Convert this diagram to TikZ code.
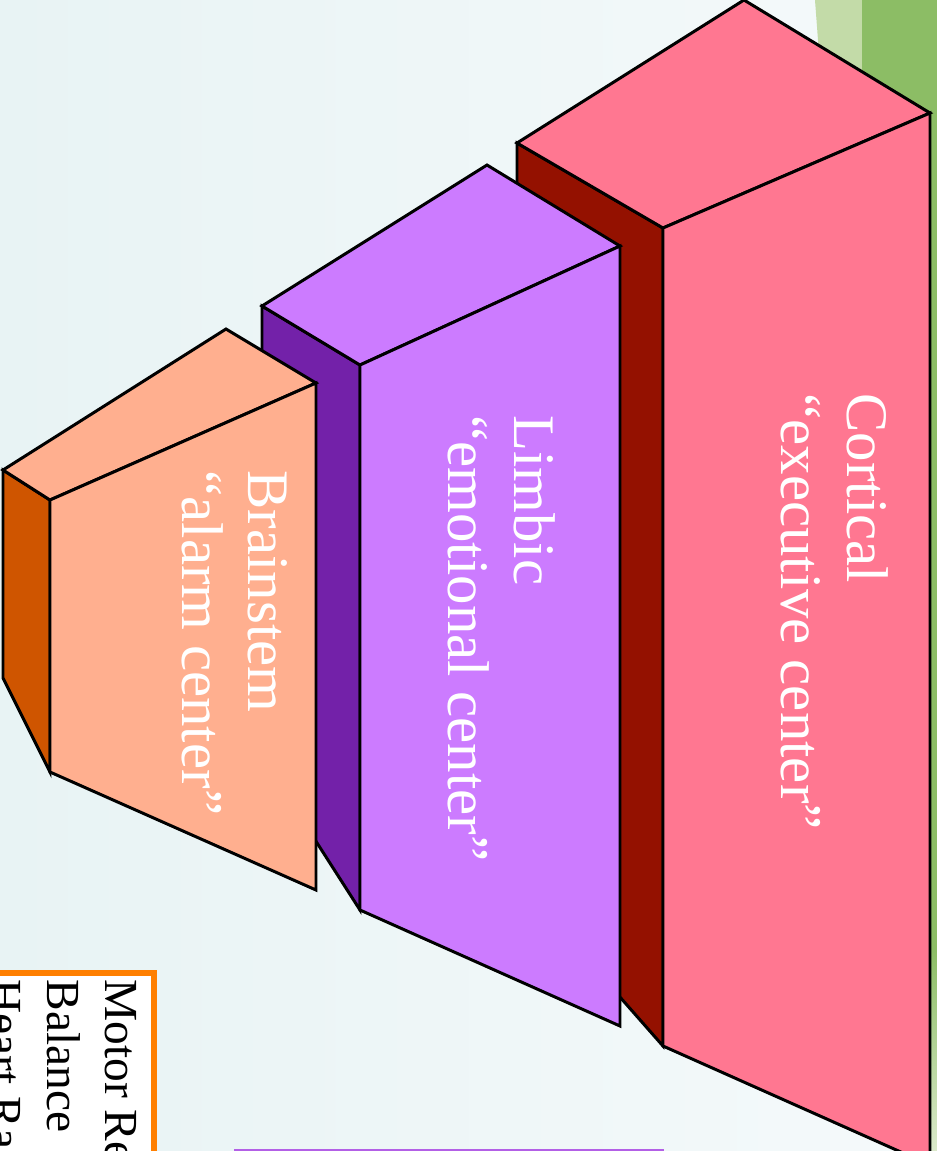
\documentclass[tikz,border=0pt]{standalone}
\usepackage{fontspec}
\setmainfont{Liberation Serif}
\definecolor{cortpink}{HTML}{FF7791}
\definecolor{cortdark}{HTML}{941100}
\definecolor{limbpink}{HTML}{CC7BFF}
\definecolor{limbdark}{HTML}{7321A9}
\definecolor{brainpink}{HTML}{FFAF8F}
\definecolor{braindark}{HTML}{CF5500}
\definecolor{boxorange}{HTML}{FF7F00}
\definecolor{linepurple}{HTML}{B360E6}
\definecolor{greendark}{HTML}{8CBD65}
\definecolor{greenlight}{HTML}{C3DBA8}
\definecolor{bgleft}{HTML}{E8F3F4}
\definecolor{bgright}{HTML}{F5FAFB}

\begin{document}
\begin{tikzpicture}[
        x=0.2mm, y=-0.2mm,
        face/.style={draw=black, line width=1.7pt},
        brainlabel/.style={text=white, rotate=-90, align=left, inner sep=0pt,
            font=\fontsize{33.5}{37.5}\selectfont},
        boxlabel/.style={text=black, rotate=-90, align=left, inner sep=0pt,
            font=\fontsize{27}{33}\selectfont}
        ]

        \useasboundingbox (0,0) rectangle (937,1151);
        \clip (0,0) rectangle (937,1151);

        % Background
        \shade[left color=bgleft, right color=bgright] (0,0) rectangle (937,1151);
        \fill[greenlight] (815,0) -- (862,0) -- (872,200) -- (830,200) -- cycle;
        \fill[greendark] (862,0) rectangle (937,950);
        \shade[top color=greendark, bottom color=greenlight!60!white] (925,950) rectangle (937,1151);

        % Corners of the blocks
        \coordinate (cort-A) at (517,143);
        \coordinate (cort-T) at (744,0);
        \coordinate (cort-R) at (930,113);
        \coordinate (cort-F) at (663,228);
        \coordinate (cort-FB) at (663,1046);
        \coordinate (cort-RB) at (930,1165);
        \coordinate (cort-SB) at (517,880);

        \coordinate (limb-A) at (262,306);
        \coordinate (limb-T) at (487,165);
        \coordinate (limb-R) at (620,246);
        \coordinate (limb-F) at (360,365);
        \coordinate (limb-FB) at (360,910);
        \coordinate (limb-RB) at (620,1026);
        \coordinate (limb-SB) at (262,757);

        \coordinate (brain-A) at (3,470);
        \coordinate (brain-T) at (226,329);
        \coordinate (brain-R) at (316,383);
        \coordinate (brain-F) at (50,500);
        \coordinate (brain-FB) at (50,772);
        \coordinate (brain-RB) at (316,890);
        \coordinate (brain-SB) at (3,678);

        % Blocks, back to front
        \foreach \b/\lite/\dark in {cort/cortpink/cortdark, limb/limbpink/limbdark, brain/brainpink/braindark} {
                \filldraw[face, fill=\dark] (\b-A) -- (\b-F) -- (\b-FB) -- (\b-SB) -- cycle;
                \filldraw[face, fill=\lite] (\b-A) -- (\b-T) -- (\b-R) -- (\b-F) -- cycle;
                \filldraw[face, fill=\lite] (\b-F) -- (\b-R) -- (\b-RB) -- (\b-FB) -- cycle;
            }

        % Nodes
        \node[brainlabel, anchor=west] (cortical) at (835,393) {Cortical\\“executive center”};
        \node[brainlabel, anchor=west] (limbic) at (502,415) {Limbic\\“emotional center”};
        \node[brainlabel, anchor=west] (brainstem) at (235,470) {Brainstem\\“alarm center”};

        % Boxes cut by the edge
        \filldraw[draw=boxorange, fill=white, line width=3.4pt] (-20,973) rectangle (154,1200);
        \node[boxlabel, anchor=north west] (functions) at (137,979) {Motor Re\\Balance\\Heart Ra};
        \draw[linepurple, line width=1.2pt] (235,1200) -- (235,1150) -- (663,1150) -- (663,1200);

    \end{tikzpicture}
\end{document}
